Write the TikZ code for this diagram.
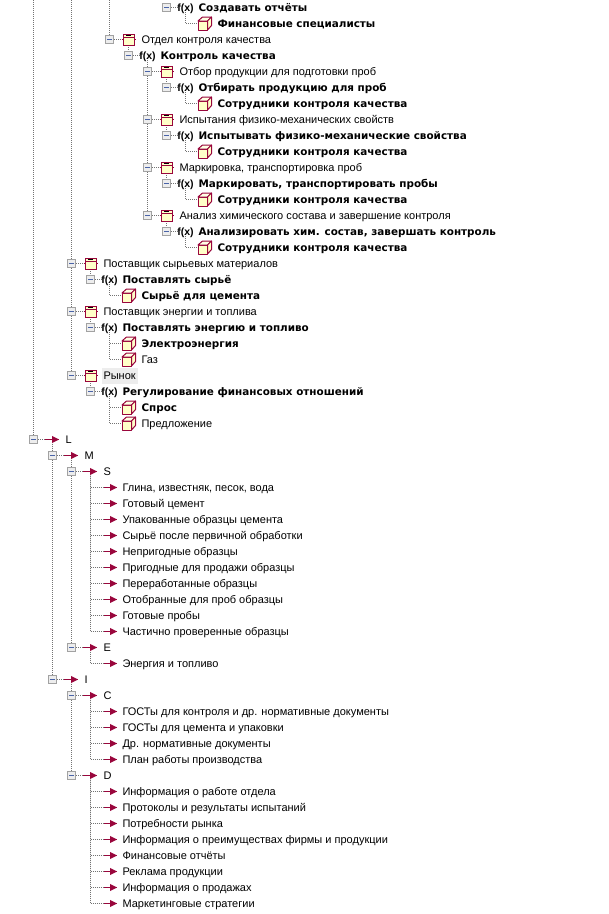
\documentclass[tikz,border=0pt]{standalone}
\usepackage{fontspec}
\setmainfont{Liberation Sans}
\newfontfamily\heavyfont{DejaVu Sans Bold}
\usepackage{tikz}
\usetikzlibrary{calc}
\definecolor{crim}{HTML}{99063C}
\definecolor{pale}{HTML}{FFFFC8}
\definecolor{togglegray}{HTML}{A2A2A2}
\definecolor{toggleblue}{HTML}{4A64A8}
\tikzset{
	treeline/.style={draw=black!55,line width=1pt,dash pattern=on 1pt off 1pt},
	togglebox/.style={draw=togglegray,fill=black!7,line width=1pt,minimum size=8pt,inner sep=0pt,outer sep=.5pt,
		path picture={\draw[toggleblue,line width=1pt] ([xshift=-2.5pt]path picture bounding box.center) -- ([xshift=2.5pt]path picture bounding box.center);}},
	orgicon/.style={minimum size=15pt,inner sep=0pt,outer sep=0pt,
		path picture={
			\coordinate (o) at (path picture bounding box.center);
			\draw[crim,line width=1pt,fill=pale] ($(o)+(-5.5pt,-5.5pt)$) rectangle ($(o)+(5.5pt,5.5pt)$);
			\draw[crim,line width=1pt] ($(o)+(-5.5pt,2pt)$) -- ($(o)+(5.5pt,2pt)$);
			\draw[black,line width=1pt] ($(o)+(-2.5pt,3.8pt)$) -- ($(o)+(2.5pt,3.8pt)$);
			\draw[crim,line width=1pt] ($(o)+(-7pt,0pt)$) -- ($(o)+(-5.5pt,0pt)$);
			\draw[crim,line width=1pt] ($(o)+(7pt,0pt)$) -- ($(o)+(5.5pt,0pt)$);
		}},
	cubeicon/.style={minimum size=15pt,inner sep=0pt,outer sep=0pt,
		path picture={
			\coordinate (o) at (path picture bounding box.center);
			\draw[crim,line width=1pt,fill=pale,line join=round] ($(o)+(-6.5pt,-6.5pt)$) -- ($(o)+(3pt,-6.5pt)$) -- ($(o)+(3pt,2.5pt)$) -- ($(o)+(-6.5pt,2.5pt)$) -- cycle;
			\draw[crim,line width=1pt,fill=pale!50,line join=round] ($(o)+(-6.5pt,2.5pt)$) -- ($(o)+(-2pt,6.5pt)$) -- ($(o)+(7pt,6.5pt)$) -- ($(o)+(3pt,2.5pt)$) -- cycle;
			\draw[crim,line width=1pt,fill=pale,line join=round] ($(o)+(3pt,-6.5pt)$) -- ($(o)+(7pt,-2pt)$) -- ($(o)+(7pt,6.5pt)$) -- ($(o)+(3pt,2.5pt)$) -- cycle;
		}},
	arrowicon/.style={minimum width=15pt,minimum height=8pt,inner sep=0pt,outer sep=0pt,
		path picture={
			\coordinate (o) at (path picture bounding box.center);
			\draw[crim,line width=1pt] ($(o)+(-7.5pt,0pt)$) -- ($(o)+(6pt,0pt)$);
			\fill[crim] ($(o)+(-0.5pt,3.6pt)$) -- ($(o)+(6.5pt,0pt)$) -- ($(o)+(-0.5pt,-3.6pt)$) -- cycle;
		}},
	plainlabel/.style={anchor=west,inner sep=0pt,outer sep=0pt,text height=8.6pt,text depth=0pt,font=\fontsize{11}{11}\selectfont},
	boldlabel/.style={anchor=west,inner sep=0pt,outer sep=0pt,text height=8pt,text depth=0pt,font=\fontsize{10.4}{11}\heavyfont},
	fxlabel/.style={minimum width=15pt,inner sep=0pt,outer sep=0pt,text height=8.5pt,text depth=.5pt,font=\fontsize{10.5}{11}\bfseries},
}
\newcommand{\orgrow}[5][]{%
	\node[togglebox] (#2-t) at (#3,#4) {};
	\node[orgicon] (#2-i) at (#3+19,#4) {};
	\node[plainlabel,#1] (#2-l) at (#3+32,#4) {#5};
	\draw[treeline] (#2-t) -- (#2-i);}
\newcommand{\fxrow}[4]{%
	\node[togglebox] (#1-t) at (#2,#3) {};
	\node[fxlabel] (#1-f) at (#2+19,#3) {f(x)};
	\node[boldlabel] (#1-l) at (#2+32,#3) {#4};
	\draw[treeline] (#1-t) -- (#1-f);}
\newcommand{\cuberow}[5][boldlabel]{%
	\node[cubeicon] (#2-i) at (#3,#4) {};
	\node[#1] (#2-l) at (#3+13,#4) {#5};}
\newcommand{\branchrow}[4]{%
	\node[togglebox] (#1-t) at (#2,#3) {};
	\node[arrowicon] (#1-i) at (#2+19,#3) {};
	\node[plainlabel] (#1-l) at (#2+32,#3) {#4};
	\draw[treeline] (#1-t) -- (#1-i);}
\newcommand{\leafrow}[4]{%
	\node[arrowicon] (#1-i) at (#2,#3) {};
	\node[plainlabel] (#1-l) at (#2+12,#3) {#4};}
\begin{document}
\begin{tikzpicture}[x=1pt,y=-1pt]
	\useasboundingbox (-.5,-.5) rectangle (608.5,913.5);

	\coordinate (top-a) at (33,-.5);
	\coordinate (top-b) at (71,-.5);
	\coordinate (top-c) at (109,-.5);

	\fxrow{otch}{166}{7}{Создавать отчёты}
	\cuberow{fins}{204}{23}{Финансовые специалисты}
	\orgrow{otk}{109}{39}{Отдел контроля качества}
	\fxrow{kk}{128}{55}{Контроль качества}
	\orgrow{otb}{147}{71}{Отбор продукции для подготовки проб}
	\fxrow{otbf}{166}{87}{Отбирать продукцию для проб}
	\cuberow{sot1}{204}{103}{Сотрудники контроля качества}
	\orgrow{isp}{147}{119}{Испытания физико-механических свойств}
	\fxrow{ispf}{166}{135}{Испытывать физико-механические свойства}
	\cuberow{sot2}{204}{151}{Сотрудники контроля качества}
	\orgrow{mrk}{147}{167}{Маркировка, транспортировка проб}
	\fxrow{mrkf}{166}{183}{Маркировать, транспортировать пробы}
	\cuberow{sot3}{204}{199}{Сотрудники контроля качества}
	\orgrow{anl}{147}{215}{Анализ химического состава и завершение контроля}
	\fxrow{anlf}{166}{231}{Анализировать хим. состав, завершать контроль}
	\cuberow{sot4}{204}{247}{Сотрудники контроля качества}
	\orgrow{psm}{71}{263}{Поставщик сырьевых материалов}
	\fxrow{psmf}{90}{279}{Поставлять сырьё}
	\cuberow{syr}{128}{295}{Сырьё для цемента}
	\orgrow{pen}{71}{311}{Поставщик энергии и топлива}
	\fxrow{penf}{90}{327}{Поставлять энергию и топливо}
	\cuberow{ele}{128}{343}{Электроэнергия}
	\cuberow[plainlabel]{gaz}{128}{359}{Газ}
	\node[fill=black!7,minimum width=36pt,minimum height=16pt,inner sep=0pt] (ryn-bg) at (119,375) {};
	\orgrow{ryn}{71}{375}{Рынок}
	\fxrow{rynf}{90}{391}{Регулирование финансовых отношений}
	\cuberow{spr}{128}{407}{Спрос}
	\cuberow[plainlabel]{prd}{128}{423}{Предложение}

	\branchrow{bl}{33}{439}{L}
	\branchrow{bm}{52}{455}{M}
	\branchrow{bs}{71}{471}{S}
	\leafrow{s1}{110}{487}{Глина, известняк, песок, вода}
	\leafrow{s2}{110}{503}{Готовый цемент}
	\leafrow{s3}{110}{519}{Упакованные образцы цемента}
	\leafrow{s4}{110}{535}{Сырьё после первичной обработки}
	\leafrow{s5}{110}{551}{Непригодные образцы}
	\leafrow{s6}{110}{567}{Пригодные для продажи образцы}
	\leafrow{s7}{110}{583}{Переработанные образцы}
	\leafrow{s8}{110}{599}{Отобранные для проб образцы}
	\leafrow{s9}{110}{615}{Готовые пробы}
	\leafrow{s10}{110}{631}{Частично проверенные образцы}
	\branchrow{be}{71}{647}{E}
	\leafrow{e1}{110}{663}{Энергия и топливо}
	\branchrow{bi}{52}{679}{I}
	\branchrow{bc}{71}{695}{C}
	\leafrow{c1}{110}{711}{ГОСТы для контроля и др. нормативные документы}
	\leafrow{c2}{110}{727}{ГОСТы для цемента и упаковки}
	\leafrow{c3}{110}{743}{Др. нормативные документы}
	\leafrow{c4}{110}{759}{План работы производства}
	\branchrow{bd}{71}{775}{D}
	\leafrow{d1}{110}{791}{Информация о работе отдела}
	\leafrow{d2}{110}{807}{Протоколы и результаты испытаний}
	\leafrow{d3}{110}{823}{Потребности рынка}
	\leafrow{d4}{110}{839}{Информация о преимуществах фирмы и продукции}
	\leafrow{d5}{110}{855}{Финансовые отчёты}
	\leafrow{d6}{110}{871}{Реклама продукции}
	\leafrow{d7}{110}{887}{Информация о продажах}
	\leafrow{d8}{110}{903}{Маркетинговые стратегии}

	\draw[treeline] (top-a) -- (bl-t);
	\draw[treeline] (top-b) -- (psm-t);
	\draw[treeline] (psm-t) -- (pen-t);
	\draw[treeline] (pen-t) -- (ryn-t);
	\draw[treeline] (top-c) -- (otk-t);
	\draw[treeline] (otch-f) |- (fins-i);
	\draw[treeline] (otk-i) -- (kk-t);
	\draw[treeline] (kk-f) -- (otb-t);
	\draw[treeline] (otb-t) -- (isp-t);
	\draw[treeline] (isp-t) -- (mrk-t);
	\draw[treeline] (mrk-t) -- (anl-t);
	\draw[treeline] (otb-i) -- (otbf-t);
	\draw[treeline] (isp-i) -- (ispf-t);
	\draw[treeline] (mrk-i) -- (mrkf-t);
	\draw[treeline] (anl-i) -- (anlf-t);
	\draw[treeline] (otbf-f) |- (sot1-i);
	\draw[treeline] (ispf-f) |- (sot2-i);
	\draw[treeline] (mrkf-f) |- (sot3-i);
	\draw[treeline] (anlf-f) |- (sot4-i);
	\draw[treeline] (psm-i) -- (psmf-t);
	\draw[treeline] (pen-i) -- (penf-t);
	\draw[treeline] (ryn-i) -- (rynf-t);
	\draw[treeline] (psmf-f) |- (syr-i);
	\draw[treeline] (penf-f) |- (ele-i);
	\draw[treeline] (penf-f) |- (gaz-i);
	\draw[treeline] (rynf-f) |- (spr-i);
	\draw[treeline] (rynf-f) |- (prd-i);

	\draw[treeline] (bl-i) -- (bm-t);
	\draw[treeline] (bm-t) -- (bi-t);
	\draw[treeline] (bm-i) -- (bs-t);
	\draw[treeline] (bs-t) -- (be-t);
	\draw[treeline] (bi-i) -- (bc-t);
	\draw[treeline] (bc-t) -- (bd-t);
	\foreach \n in {s1,s2,s3,s4,s5,s6,s7,s8,s9,s10}
		\draw[treeline] (bs-i) |- (\n-i);
	\draw[treeline] (be-i) |- (e1-i);
	\foreach \n in {c1,c2,c3,c4}
		\draw[treeline] (bc-i) |- (\n-i);
	\foreach \n in {d1,d2,d3,d4,d5,d6,d7,d8}
		\draw[treeline] (bd-i) |- (\n-i);
\end{tikzpicture}
\end{document}
